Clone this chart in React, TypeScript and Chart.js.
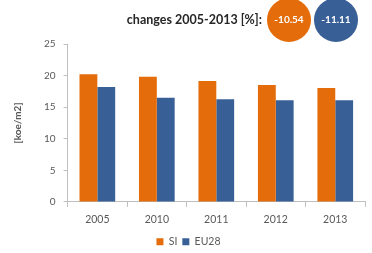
import React, { useEffect, useRef } from "react";
import { Chart, registerables } from "chart.js";

Chart.register(...registerables);

const categories = ["2005", "2010", "2011", "2012", "2013"];
const siValues = [20.2, 19.8, 19.15, 18.5, 18.05];
const eu28Values = [18.2, 16.5, 16.25, 16.1, 16.1];
const seriesNames = ["SI", "EU28"];
const changeLabel = "changes 2005-2013 [%]:";
const changeValues = [-10.54, -11.11];
const yTitle = "[koe/m2]";

const ORANGE = "#E46C0A";
const BLUE = "#386096";
const TEXT = "#595959";
const FONT = "Lato, 'Liberation Sans', sans-serif";

const headerPlugin = {
  id: "header",
  afterDraw(chart: any) {
    const ctx = chart.ctx;
    ctx.save();
    const cy = 20;
    const r = 22;
    const centers = [289, 336];
    const colors = [ORANGE, BLUE];
    changeValues.forEach((v, i) => {
      ctx.beginPath();
      ctx.arc(centers[i], cy, r, 0, Math.PI * 2);
      ctx.fillStyle = colors[i];
      ctx.fill();
      ctx.fillStyle = "#ffffff";
      ctx.font = `bold 10px ${FONT}`;
      ctx.textAlign = "center";
      ctx.textBaseline = "middle";
      ctx.fillText(v.toFixed(2), centers[i], cy);
    });
    ctx.fillStyle = "#262626";
    ctx.font = `bold 12.5px ${FONT}`;
    ctx.textAlign = "right";
    ctx.textBaseline = "middle";
    ctx.fillText(changeLabel, 262, cy);
    ctx.restore();
  },
};

export default function App() {
  const ref = useRef<HTMLCanvasElement>(null);
  useEffect(() => {
    document.body.style.margin = "0";
    const chart = new Chart(ref.current!, {
      type: "bar",
      data: {
        labels: categories,
        datasets: [
          { label: seriesNames[0], data: siValues, backgroundColor: ORANGE },
          { label: seriesNames[1], data: eu28Values, backgroundColor: BLUE },
        ],
      },
      options: {
        animation: false,
        responsive: false,
        maintainAspectRatio: false,
        layout: { padding: { top: 44, right: 7, left: 12, bottom: -4 } },
        datasets: { bar: { categoryPercentage: 0.6, barPercentage: 1 } } as any,
        plugins: {
          legend: {
            position: "bottom",
            labels: {
              boxWidth: 7,
              boxHeight: 7,
              font: { family: FONT, size: 10.5 },
              color: TEXT,
              padding: 5,
            },
          },
          tooltip: { enabled: false },
        },
        scales: {
          x: {
            grid: {
              display: true,
              drawOnChartArea: false,
              drawTicks: true,
              tickLength: 5,
              color: "#BFBFBF",
            },
            border: { display: true, color: "#BFBFBF" },
            ticks: { font: { family: FONT, size: 10.5 }, color: TEXT, padding: 6 },
          },
          y: {
            min: 0,
            max: 25,
            ticks: { stepSize: 5, font: { family: FONT, size: 10 }, color: TEXT, padding: 8 },
            grid: {
              display: true,
              drawOnChartArea: false,
              drawTicks: true,
              tickLength: 4,
              color: "#BFBFBF",
            },
            border: { display: true, color: "#BFBFBF" },
            title: {
              display: true,
              text: yTitle,
              font: { family: FONT, size: 10, weight: "bold" },
              color: TEXT,
              padding: { top: 0, bottom: 12 },
            },
          },
        },
      },
      plugins: [headerPlugin],
    });
    return () => chart.destroy();
  }, []);
  return <canvas ref={ref} width={372} height={253} style={{ display: "block" }} />;
}
